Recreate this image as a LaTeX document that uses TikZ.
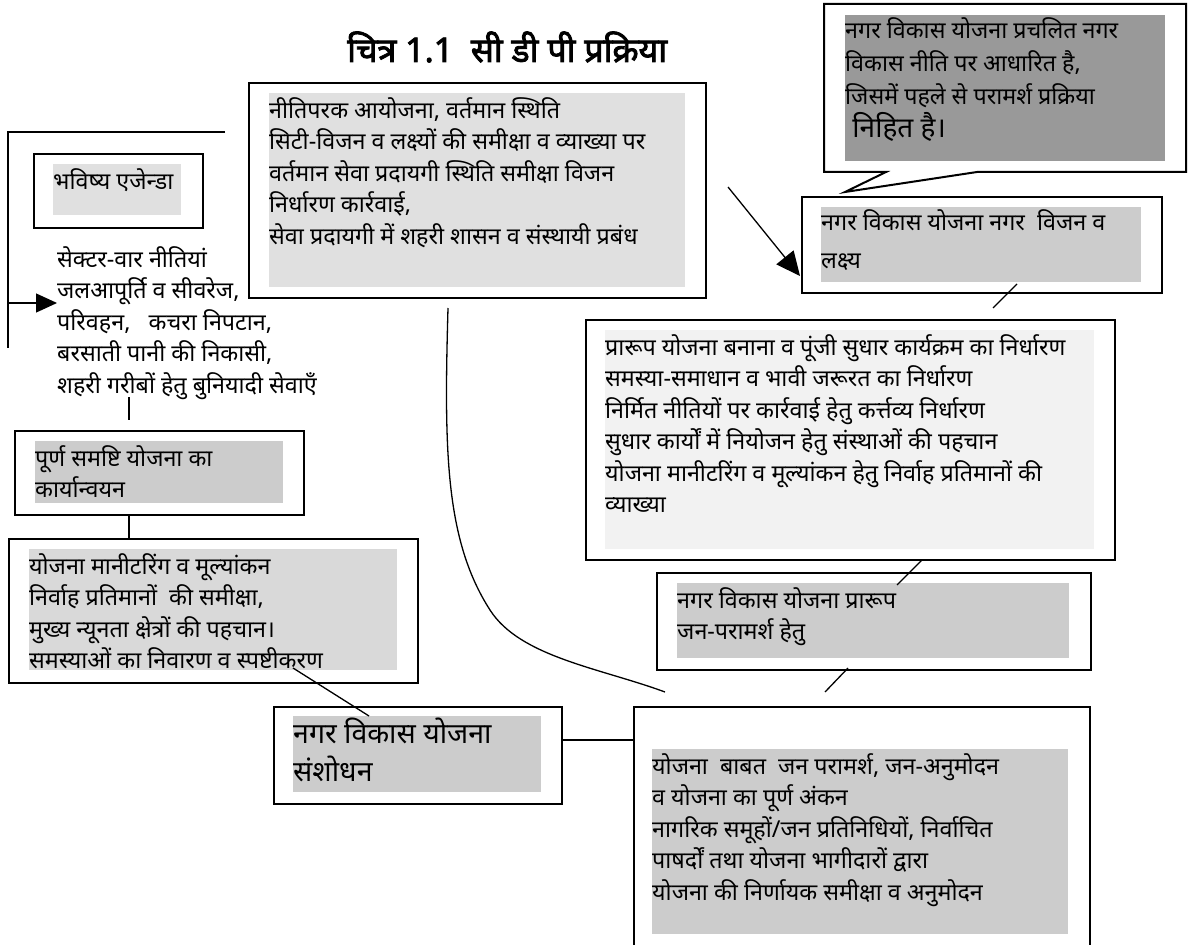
\documentclass[tikz,border=0pt]{standalone}
\usepackage{fontspec}
\newfontfamily\devfont[Script=Devanagari]{Noto Sans}
\newfontfamily\devbold[Script=Devanagari, FakeBold=2.5]{Noto Sans}
\usetikzlibrary{arrows.meta,positioning}
\definecolor{shadeA}{HTML}{E0E0E0}
\definecolor{shadeC}{HTML}{CCCCCC}
\definecolor{shadeD}{HTML}{D9D9D9}
\definecolor{shadeP}{HTML}{F2F2F2}
\definecolor{shadeH}{HTML}{999999}
\tikzset{
  boxframe/.style={draw, line width=2pt, anchor=north west, inner sep=0pt},
  shadebox/.style={fill=#1, anchor=north west, inner sep=0pt},
  boxtext/.style={anchor=north west, align=left, inner xsep=0pt, inner ysep=4pt,
    font=\devfont\fontsize{23.3}{31.5}\selectfont},
  link/.style={line width=1.3pt},
}
\begin{document}
\begin{tikzpicture}[x=1pt,y=-1pt]
\useasboundingbox (0,0) rectangle (1190,944);
% Title
\node[anchor=west, inner sep=0pt, font=\devbold\fontsize{34}{38}\selectfont] (title) at (347,47) {चित्र 1.1\ \ सी डी पी प्रक्रिया};
% Policy box
\node[boxframe, minimum width=457pt, minimum height=215pt] (policy) at (248,82) {};
\node[shadebox=shadeA, minimum width=416pt, minimum height=194pt] (policybg) at (269,93) {};
\node[boxtext] (policytxt) at (policybg.north west) {नीतिपरक आयोजना, वर्तमान स्थिति\\
सिटी-विजन व लक्ष्यों की समीक्षा व व्याख्या पर\\
वर्तमान सेवा प्रदायगी स्थिति समीक्षा विजन\\
निर्धारण कार्रवाई,\\
सेवा प्रदायगी में शहरी शासन व संस्थायी प्रबंध};
% Future agenda
\node[boxframe, minimum width=169pt, minimum height=74pt] (agenda) at (33,153) {};
\node[shadebox=shadeA, minimum width=128pt, minimum height=51pt] (agendabg) at (53,164) {};
\node[boxtext] (agendatxt) at (agendabg.north west) {भविष्य एजेन्डा};
% Sector policies (no frame)
\node[boxtext] (sector) at (57,242) {सेक्टर-वार नीतियां\\
जलआपूर्ति व सीवरेज,\\
परिवहन,\ \ \ कचरा निपटान,\\
बरसाती पानी की निकासी,\\
शहरी गरीबों हेतु बुनियादी सेवाएँ};
% Implementation
\node[boxframe, minimum width=289pt, minimum height=84pt] (implement) at (14,430) {};
\node[shadebox=shadeC, minimum width=248pt, minimum height=62pt] (implementbg) at (35,441) {};
\node[boxtext] (implementtxt) at (implementbg.north west) {पूर्ण समष्टि योजना का\\
कार्यान्वयन};
% Monitoring
\node[boxframe, minimum width=409pt, minimum height=144pt] (monitor) at (8,538) {};
\node[shadebox=shadeD, minimum width=368pt, minimum height=121pt] (monitorbg) at (29,549) {};
\node[boxtext] (monitortxt) at (monitorbg.north west) {योजना मानीटरिंग व मूल्यांकन\\
निर्वाह प्रतिमानों\ \ की समीक्षा,\\
मुख्य न्यूनता क्षेत्रों की पहचान।\\
समस्याओं का निवारण व स्पष्टीकरण};
% Revision
\node[boxframe, minimum width=288pt, minimum height=97pt] (revise) at (273,706) {};
\node[shadebox=shadeC, minimum width=248pt, minimum height=76pt] (revisebg) at (293,716) {};
\node[boxtext, inner ysep=2pt, font=\devfont\fontsize{28.5}{38}\selectfont] (revisetxt) at (revisebg.north west) {नगर विकास योजना\\
संशोधन};
% Public consultation (runs off the page)
\node[boxframe, minimum width=456pt, minimum height=260pt] (approve) at (633,706) {};
\node[shadebox=shadeC, minimum width=416pt, minimum height=185pt] (approvebg) at (652,749) {};
\node[boxtext] (approvetxt) at (approvebg.north west) {योजना\ \ बाबत\ \ जन परामर्श, जन-अनुमोदन\\
व योजना का पूर्ण अंकन\\
नागरिक समूहों/जन प्रतिनिधियों, निर्वाचित\\
पाषर्दों तथा योजना भागीदारों द्वारा\\
योजना की निर्णायक समीक्षा व अनुमोदन};
% Draft for consultation
\node[boxframe, minimum width=434pt, minimum height=97pt] (draft) at (656,572) {};
\node[shadebox=shadeC, minimum width=392pt, minimum height=75pt] (draftbg) at (677,583) {};
\node[boxtext] (drafttxt) at (draftbg.north west) {नगर विकास योजना प्रारूप\\
जन-परामर्श हेतु};
% Plan preparation
\node[boxframe, minimum width=529pt, minimum height=240pt] (plan) at (585,319) {};
\node[shadebox=shadeP, minimum width=489pt, minimum height=219pt] (planbg) at (605,330) {};
\node[boxtext] (plantxt) at (planbg.north west) {प्रारूप योजना बनाना व पूंजी सुधार कार्यक्रम का निर्धारण\\
समस्या-समाधान व भावी जरूरत का निर्धारण\\
निर्मित नीतियों पर कार्रवाई हेतु कर्त्तव्य निर्धारण\\
सुधार कार्यों में नियोजन हेतु संस्थाओं की पहचान\\
योजना मानीटरिंग व मूल्यांकन हेतु निर्वाह प्रतिमानों की\\
व्याख्या};
% Vision and goals
\node[boxframe, minimum width=360pt, minimum height=96pt] (vision) at (801,196) {};
\node[shadebox=shadeC, minimum width=320pt, minimum height=75pt] (visionbg) at (821,207) {};
\node[boxtext, inner ysep=2pt, font=\devfont\fontsize{23.3}{38}\selectfont] (visiontxt) at (visionbg.north west) {नगर विकास योजना नगर\ \ विजन व\\
लक्ष्य};
% Callout
\draw[line width=2pt, line join=miter] (886,172) -- (824,172) -- (824,4) -- (1186,4) -- (1186,172) -- (977,172) -- (845,192) -- cycle;
\node[shadebox=shadeH, minimum width=320pt, minimum height=146pt] (notebg) at (845,15) {};
\node[boxtext, inner ysep=2pt, font=\devfont\fontsize{23.3}{33}\selectfont] (notetxt) at (notebg.north west) {नगर विकास योजना प्रचलित नगर\\
विकास नीति पर आधारित है,\\
जिसमें पहले से परामर्श प्रक्रिया\\
{\fontsize{28}{33}\selectfont\ निहित है।}};
% Connector end points
\coordinate (brTop) at (225,132);
\coordinate (brCorner) at (8,132);
\coordinate (brEnd) at (8,348);
\coordinate (arrTail) at (8,303);
\coordinate (arrTip) at (57,303);
\coordinate (secLow) at (129,397);
\coordinate (implTop) at (129,420);
\coordinate (implLow) at (129,514);
\coordinate (monTop) at (129,540);
\coordinate (monLow) at (293,668);
\coordinate (revTop) at (369,716);
\coordinate (revRight) at (561,740);
\coordinate (appLeft) at (633,740);
\coordinate (polLow) at (448,308);
\coordinate (appTopA) at (665,692);
\coordinate (visFrom) at (728,187);
\coordinate (visTip) at (800,276);
\coordinate (visLow) at (1017,284);
\coordinate (planTop) at (993,308);
\coordinate (planLow) at (922,560);
\coordinate (draftTop) at (897,585);
\coordinate (draftLow) at (848,668);
\coordinate (appTopB) at (825,692);
% Connectors
\draw[link] (brTop) -- (brCorner) -- (brEnd);
\draw[link, -{Triangle[length=21pt, width=19pt]}] (arrTail) -- (arrTip);
\draw[link] (secLow) -- (implTop);
\draw[link] (implLow) -- (monTop);
\draw[link] (monLow) -- (revTop);
\draw[link] (revRight) -- (appLeft);
\draw[link] (polLow) .. controls (444,450) and (445,540) .. (490,610) .. controls (520,657) and (600,668) .. (appTopA);
\draw[link, -{Triangle[length=24pt, width=22pt]}] (visFrom) -- (visTip);
\draw[link] (visLow) -- (planTop);
\draw[link] (planLow) -- (draftTop);
\draw[link] (draftLow) -- (appTopB);
\end{tikzpicture}
\end{document}
